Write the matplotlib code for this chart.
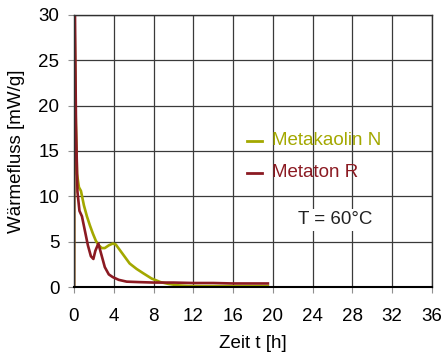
import matplotlib.pyplot as plt

plt.rcParams['font.family'] = ['Liberation Sans', 'DejaVu Sans']

# Metakaolin N (yellow-green)
t_mk = [0, 0.05, 0.15, 0.3, 0.5, 0.7, 1.0, 1.3, 1.6, 1.9, 2.2, 2.5, 2.8, 3.1, 3.5, 3.9, 4.2, 4.6, 5.0, 5.6, 6.3, 7.0, 7.8, 8.7, 9.5, 10.4, 11.5, 13, 15, 17, 19.5]
q_mk = [0, 30, 20, 12.5, 11.0, 10.6, 9.0, 7.8, 6.8, 5.9, 5.1, 4.6, 4.3, 4.3, 4.6, 4.8, 4.7, 4.1, 3.5, 2.6, 2.0, 1.5, 0.95, 0.55, 0.35, 0.2, 0.12, 0.1, 0.1, 0.1, 0.1]

# Metaton R (dark red)
t_mr = [0, 0.02, 0.1, 0.2, 0.35, 0.55, 0.8, 1.1, 1.4, 1.7, 1.95, 2.15, 2.45, 2.75, 3.1, 3.5, 3.9, 4.5, 5.3, 6.5, 8, 10, 12, 14, 16, 18, 19.5]
q_mr = [0, 32, 30, 18, 10.5, 8.4, 7.8, 6.2, 4.6, 3.4, 3.1, 4.0, 4.8, 3.6, 2.2, 1.4, 1.1, 0.8, 0.6, 0.55, 0.5, 0.5, 0.45, 0.45, 0.4, 0.4, 0.4]

xticks = [0, 4, 8, 12, 16, 20, 24, 28, 32, 36]
yticks = [0, 5, 10, 15, 20, 25, 30]

c_mk = '#a3a800'
c_mr = '#8b1a22'

fig = plt.figure(figsize=(4.43, 3.54), dpi=100)
ax = fig.add_axes([0.167, 0.189, 0.808, 0.769])

ax.plot(t_mk, q_mk, color=c_mk, lw=1.9)
ax.plot(t_mr, q_mr, color=c_mr, lw=1.9)

ax.set_xlim(0, 36)
ax.set_ylim(0, 30)
ax.set_xticks(xticks)
ax.set_yticks(yticks)
ax.tick_params(labelsize=13.5, length=4, color='#909090')
ax.tick_params(axis='x', pad=11)
ax.tick_params(axis='y', pad=6.5)
ax.grid(True, color='#3a3a3a', lw=0.9)
for s in ax.spines.values():
    s.set_color('#303030')
    s.set_linewidth(1.0)
ax.spines['bottom'].set_color('black')
ax.spines['bottom'].set_linewidth(1.5)

ax.set_xlabel('Zeit t [h]', fontsize=13.5, labelpad=7.5)
ax.set_ylabel('Wärmefluss [mW/g]', fontsize=13.5, labelpad=10)

# legend drawn as lines with colored text
ax.plot([17.4, 18.9], [16.1, 16.1], color=c_mk, lw=2.0, clip_on=False)
ax.text(19.9, 16.1, 'Metakaolin N', color=c_mk, fontsize=13.5, va='center')
ax.plot([17.4, 18.9], [12.6, 12.6], color=c_mr, lw=2.0, clip_on=False)
ax.text(19.9, 12.6, 'Metaton R', color=c_mr, fontsize=13.5, va='center')
ax.text(22.5, 7.4, 'T = 60°C', color='#222222', fontsize=13.5, va='center',
        bbox=dict(facecolor='white', edgecolor='none', pad=2))

fig.savefig('out.png', dpi=100)
